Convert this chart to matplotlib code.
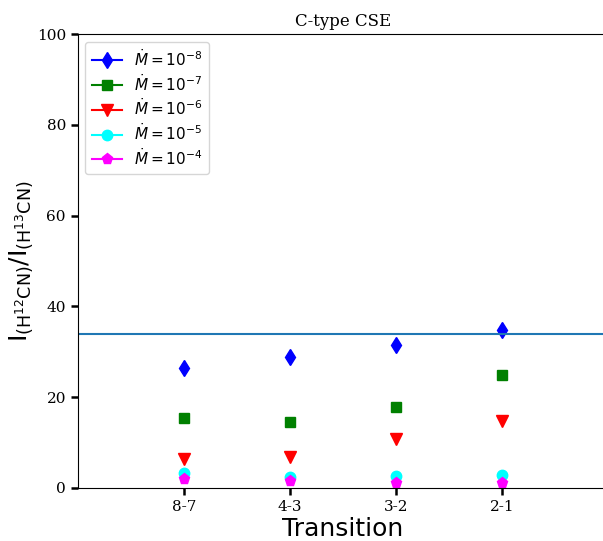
import numpy as np
import matplotlib
matplotlib.use('Agg')
import matplotlib.pyplot as plt

transitions = ['8-7', '4-3', '3-2', '2-1']
mdot_labels = [r'$\dot{M}=10^{-8}$', r'$\dot{M}=10^{-7}$', r'$\dot{M}=10^{-6}$',
               r'$\dot{M}=10^{-5}$', r'$\dot{M}=10^{-4}$']

# ratio per transition for each mass-loss rate
ratio_m8 = [26.4, 28.9, 31.4, 34.7]
ratio_m7 = [15.4, 14.5, 17.9, 24.8]
ratio_m6 = [6.3, 6.8, 10.7, 14.7]
ratio_m5 = [3.3, 2.5, 2.6, 2.8]
ratio_m4 = [1.9, 1.5, 1.2, 1.2]
ism_ratio = 34.0

series = [ratio_m8, ratio_m7, ratio_m6, ratio_m5, ratio_m4]
markers = ['d', 's', 'v', 'o', 'p']
colors = ['b', 'g', 'r', 'cyan', 'magenta']
msizes = [8.5, 7.5, 8, 7.5, 8]

fig = plt.figure(figsize=(6.03, 5.41), dpi=100)
ax = fig.add_axes([0.129, 0.098, 0.879, 0.839])

x = np.arange(1, len(transitions) + 1)
for vals, m, c, ms, lab in zip(series, markers, colors, msizes, mdot_labels):
    for k in range(len(x)):
        ax.plot(x[k], vals[k], marker=m, color=c, markersize=ms, linestyle='-',
                label=lab if k == 0 else None)

ax.axhline(ism_ratio, color='tab:blue', lw=1.5)

ax.set_xlim(0, 5)
ax.set_ylim(0, 100)
ax.set_xticks(x)
ax.set_xticklabels(transitions)
ax.set_yticks([0, 20, 40, 60, 80, 100])
for lbl in ax.get_xticklabels() + ax.get_yticklabels():
    lbl.set_family('DejaVu Serif')
    lbl.set_fontsize(11)
ax.tick_params(direction='out', length=5, width=1.8, color='k')
ax.spines['right'].set_visible(False)

ax.set_title('C-type CSE', family='DejaVu Serif', fontsize=12)
ax.set_xlabel('Transition', fontsize=18, labelpad=2)
ax.set_ylabel(r'I$_{\rm (H^{12}CN)}$/I$_{\rm (H^{13}CN)}$', fontsize=18, labelpad=1)

ax.legend(loc='upper left', fontsize=11, labelspacing=0.25)

fig.savefig('out.png', dpi=100)
